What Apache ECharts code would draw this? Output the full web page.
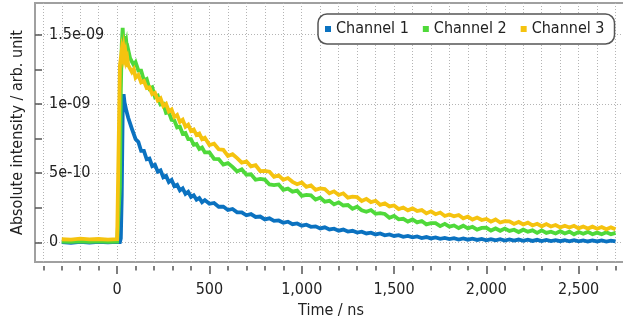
<!DOCTYPE html>
<html>
<head>
<meta charset="utf-8">
<script src="https://cdn.jsdelivr.net/npm/echarts@6/dist/echarts.min.js"></script>
<style>
html, body { margin: 0; padding: 0; background: #fff; }
#chart { width: 623px; height: 320px; }
</style>
</head>
<body>
<div id="chart"></div>
<script>
// Sample times (ns)
const timeNs = [
  -300, -250, -200, -150, -100, -50, 0, 10,
  15, 20, 25, 30, 35, 40, 45, 50, 55, 60, 70, 80, 90, 100,
  115, 130, 145, 160, 175, 190, 205, 220, 235, 250, 265, 280, 295, 310, 325, 340, 355, 370, 385, 400, 415, 430, 445, 460, 475,
  500, 525, 550, 575, 600, 625, 650, 675,
  700, 725, 750, 775, 800, 825, 850, 875,
  900, 925, 950, 975, 1000, 1025, 1050, 1075,
  1100, 1125, 1150, 1175, 1200, 1225, 1250, 1275,
  1300, 1325, 1350, 1375, 1400, 1425, 1450, 1475,
  1500, 1525, 1550, 1575, 1600, 1625, 1650, 1675,
  1700, 1725, 1750, 1775, 1800, 1825, 1850, 1875,
  1900, 1925, 1950, 1975, 2000, 2025, 2050, 2075,
  2100, 2125, 2150, 2175, 2200, 2225, 2250, 2275,
  2300, 2325, 2350, 2375, 2400, 2425, 2450, 2475,
  2500, 2525, 2550, 2575, 2600, 2625, 2650, 2675,
  2700
];

// Intensities in units of 1e-10 arb. unit
const UNIT = 1e-10;

const channel1 = [
  0.02, -0.03, 0.03, -0.02, 0.04, 0, 0.03, 0.01,
  0.02, 0.3, 3.4, 9.4, 10.7, 10.1, 10.2, 9.5, 9.6, 9.0, 8.9, 8.2, 8.1, 7.45,
  7.25, 6.6, 6.6, 6.0, 6.05, 5.5, 5.6, 5.1, 5.2, 4.7, 4.8, 4.35, 4.5, 4.05, 4.15, 3.75, 3.9, 3.5, 3.65, 3.28, 3.4, 3.08, 3.2, 2.9, 3.05,
  2.78, 2.84, 2.57, 2.58, 2.33, 2.41, 2.17, 2.16,
  1.95, 2.04, 1.83, 1.86, 1.65, 1.73, 1.55, 1.58,
  1.41, 1.49, 1.31, 1.36, 1.2, 1.27, 1.12, 1.15,
  1.0, 1.08, 0.93, 0.98, 0.84, 0.92, 0.78, 0.83,
  0.7, 0.77, 0.64, 0.7, 0.57, 0.64, 0.51, 0.57,
  0.46, 0.52, 0.4, 0.46, 0.36, 0.42, 0.31, 0.38,
  0.28, 0.35, 0.25, 0.32, 0.23, 0.3, 0.2, 0.28,
  0.19, 0.26, 0.17, 0.25, 0.15, 0.23, 0.14, 0.22,
  0.13, 0.21, 0.12, 0.2, 0.11, 0.19, 0.1, 0.18,
  0.09, 0.17, 0.09, 0.16, 0.08, 0.15, 0.07, 0.15,
  0.07, 0.14, 0.06, 0.13, 0.06, 0.13, 0.05, 0.12,
  0.06
];

const channel2 = [
  0.05, 0.03, 0.07, 0.04, 0.06, 0.03, 0.05, 0.06,
  4.0, 11.0, 14.3, 15.5, 14.2, 14.9, 14.1, 14.4, 13.7, 13.9, 13.3, 13.4, 12.8, 13.0,
  12.4, 12.4, 11.7, 11.8, 11.1, 11.2, 10.5, 10.6, 9.95, 10.0, 9.35, 9.4, 8.85, 8.8, 8.3, 8.35, 7.85, 7.9, 7.45, 7.45, 7.05, 7.1, 6.75, 6.85, 6.5,
  6.5, 6.03, 6.01, 5.61, 5.72, 5.45, 5.12, 5.27,
  4.88, 4.91, 4.52, 4.58, 4.53, 4.18, 4.13, 4.18,
  3.79, 3.88, 3.66, 3.73, 3.36, 3.43, 3.4, 3.09,
  3.22, 2.94, 3.0, 2.74, 2.89, 2.66, 2.69, 2.42,
  2.57, 2.31, 2.2, 2.33, 2.06, 2.11, 2.05, 1.77,
  1.9, 1.66, 1.7, 1.5, 1.65, 1.44, 1.54, 1.3,
  1.39, 1.39, 1.17, 1.33, 1.13, 1.22, 1.03, 1.2,
  1.01, 1.12, 0.92, 1.04, 1.05, 0.85, 1.0, 0.83,
  0.99, 0.82, 0.91, 0.74, 0.91, 0.77, 0.86, 0.68,
  0.86, 0.68, 0.77, 0.64, 0.8, 0.64, 0.77, 0.58,
  0.74, 0.62, 0.75, 0.58, 0.7, 0.58, 0.72, 0.58,
  0.68
];

const channel3 = [
  0.22, 0.2, 0.26, 0.21, 0.24, 0.2, 0.23, 0.25,
  12.8, 13.3, 13.9, 13.5, 14.0, 13.4, 13.7, 13.1, 13.3, 12.8, 12.9, 12.3, 12.5, 11.9,
  12.1, 11.55, 11.65, 11.15, 11.2, 10.7, 10.8, 10.25, 10.4, 9.85, 10.0, 9.45, 9.6, 9.05, 9.2, 8.7, 8.85, 8.35, 8.5, 8.05, 8.15, 7.75, 7.85, 7.45, 7.55,
  7.03, 7.12, 6.72, 6.68, 6.24, 6.36, 6.08, 5.75,
  5.84, 5.49, 5.57, 5.15, 5.16, 5.1, 4.73, 4.83,
  4.51, 4.64, 4.37, 4.2, 4.32, 4.01, 4.11, 3.79,
  3.89, 3.84, 3.54, 3.68, 3.42, 3.54, 3.23, 3.3,
  3.26, 2.99, 3.14, 2.9, 3.0, 2.71, 2.81, 2.59,
  2.66, 2.4, 2.51, 2.31, 2.45, 2.26, 2.33, 2.09,
  2.24, 2.03, 2.15, 1.9, 2.01, 1.88, 1.97, 1.73,
  1.86, 1.64, 1.79, 1.61, 1.69, 1.49, 1.65, 1.43,
  1.53, 1.51, 1.33, 1.47, 1.29, 1.42, 1.22, 1.34,
  1.16, 1.32, 1.14, 1.25, 1.07, 1.2, 1.07, 1.19,
  1.01, 1.14, 0.99, 1.13, 0.98, 1.1, 0.94, 1.08,
  0.95
];

const seriesNames = ['Channel 1', 'Channel 2', 'Channel 3'];
const seriesColors = ['#0b72c0', '#4fd93a', '#f5c30f'];

// Axis ticks and labels
const xLabelTicks = [0, 500, 1000, 1500, 2000, 2500];
const xMinorTicks = [-400, -300, -200, -100, 0, 100, 200, 300, 400, 500, 600, 700, 800, 900, 1000,
  1100, 1200, 1300, 1400, 1500, 1600, 1700, 1800, 1900, 2000, 2100, 2200, 2300, 2400, 2500, 2600, 2700];
const yLabelTicks = [0, 5e-10, 1e-9, 1.5e-9];
const yMinorTicks = [0, 2.5e-10, 5e-10, 7.5e-10, 1e-9, 1.25e-9, 1.5e-9];

const FONT = "'DejaVu Sans Condensed', 'Liberation Sans', sans-serif";
const X_MIN = -445, X_MAX = 2762;
const Y_MIN = -1.423e-10, Y_MAX = 1.729e-9;

function sciLabel(v) {
  if (v === 0) return '0';
  const parts = v.toExponential().split('e');
  const n = Number(parts[1]);
  const a = Math.abs(n);
  return parts[0] + 'e' + (n < 0 ? '-' : '+') + (a < 10 ? '0' + a : a);
}

const channels = [channel1, channel2, channel3];
const series = channels.map((vals, k) => ({
  name: seriesNames[k],
  type: 'line',
  xAxisIndex: 0,
  yAxisIndex: 0,
  showSymbol: false,
  symbol: 'none',
  color: seriesColors[k],
  lineStyle: { width: 3.8, color: seriesColors[k], join: 'miter' },
  data: timeNs.map((t, i) => [t, vals[i] * UNIT]),
  animation: false
}));

const dotted = { color: '#b4b4b4', width: 1, type: [1, 2] };
const tickStyle = { color: '#555', width: 1.5 };

const chart = echarts.init(document.getElementById('chart'), null, { renderer: 'canvas' });
chart.setOption({
  backgroundColor: '#fff',
  animation: false,
  textStyle: { fontFamily: FONT },
  grid: {
    left: 35, right: -4, top: 3, bottom: 58,
    containLabel: false, outerBoundsMode: 'none',
    show: true, borderColor: '#a0a0a0', borderWidth: 2, backgroundColor: 'transparent'
  },
  legend: {
    data: seriesNames,
    left: 318, top: 14,
    icon: 'rect', itemWidth: 6, itemHeight: 6, itemGap: 14,
    padding: [7, 10, 7, 7],
    borderColor: '#555', borderWidth: 1.5, borderRadius: 9,
    backgroundColor: '#fff',
    textStyle: { fontFamily: FONT, fontSize: 16, color: '#222' }
  },
  xAxis: [
    {
      type: 'value', min: X_MIN, max: X_MAX, position: 'bottom', offset: 4,
      name: 'Time / ns', nameLocation: 'middle', nameGap: 36,
      nameTextStyle: { fontFamily: FONT, fontSize: 16, color: '#222' },
      axisLine: { show: false, onZero: false },
      axisTick: { show: true, length: 8, customValues: xLabelTicks, lineStyle: tickStyle },
      axisLabel: { show: true, customValues: xLabelTicks, margin: 16, fontFamily: FONT, fontSize: 16, color: '#222',
        formatter: v => v.toLocaleString('en-US') },
      splitLine: { show: false }
    },
    {
      type: 'value', min: X_MIN, max: X_MAX, position: 'bottom', offset: 4,
      axisLine: { show: false, onZero: false },
      axisTick: { show: true, length: 4.5, customValues: xMinorTicks, lineStyle: tickStyle },
      axisLabel: { show: false },
      splitLine: { show: true, lineStyle: dotted }
    }
  ],
  yAxis: [
    {
      type: 'value', min: Y_MIN, max: Y_MAX, position: 'left',
      name: 'Absolute intensity / arb. unit', nameLocation: 'middle', nameGap: 9,
      nameTextStyle: { fontFamily: FONT, fontSize: 16, color: '#222' },
      axisLine: { show: false, onZero: false },
      axisTick: { show: true, inside: true, length: 7, customValues: yMinorTicks, lineStyle: tickStyle },
      axisLabel: { show: false },
      splitLine: { show: false }
    },
    {
      type: 'value', min: Y_MIN, max: Y_MAX, position: 'left',
      axisLine: { show: false, onZero: false },
      axisTick: { show: false, customValues: yLabelTicks },
      axisLabel: { show: true, inside: true, customValues: yLabelTicks, margin: 14, fontFamily: FONT, fontSize: 16, color: '#222',
        formatter: sciLabel },
      splitLine: { show: true, lineStyle: dotted }
    }
  ],
  series: series
});
</script>
</body>
</html>
